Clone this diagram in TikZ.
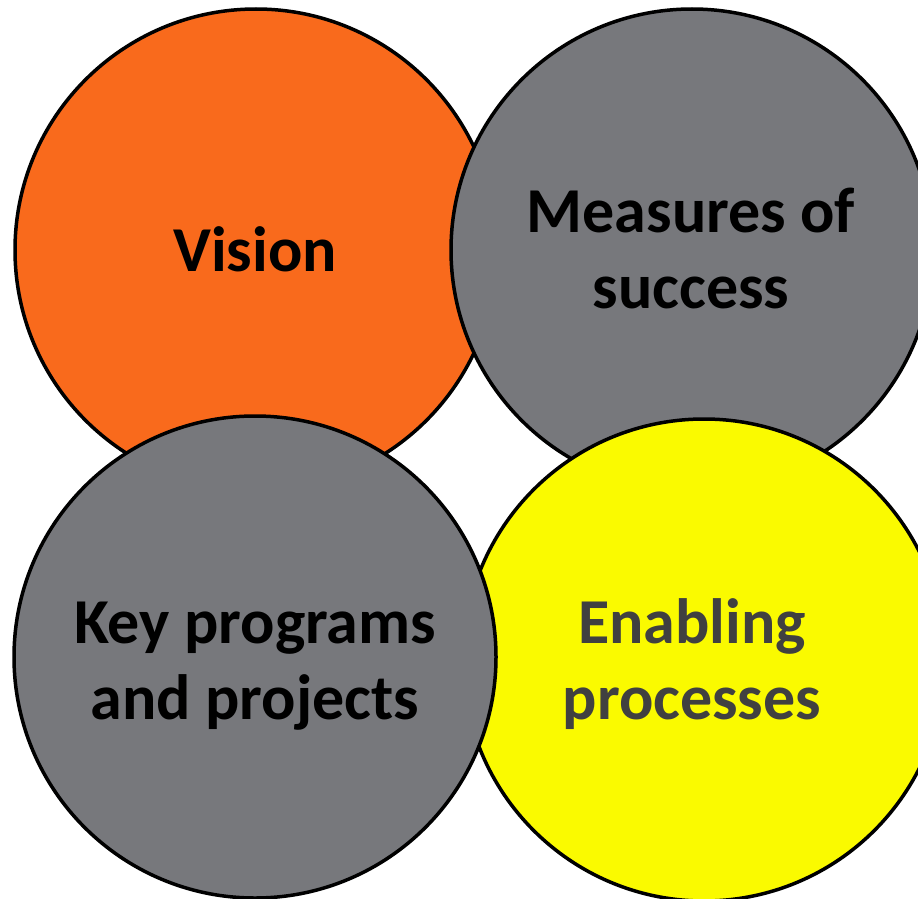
\documentclass[tikz,border=0pt]{standalone}
\usepackage{fontspec}
\setmainfont{Carlito}
\definecolor{visionorange}{HTML}{F96A1C}
\definecolor{midgray}{HTML}{77787C}
\definecolor{brightyellow}{HTML}{FAFA00}
\definecolor{darktext}{HTML}{404040}
\begin{document}
\begin{tikzpicture}[x=1pt,y=-1pt,
  disc/.style={circle, draw=black, line width=3.5pt, minimum size=482pt, inner sep=0pt},
  caption/.style={font=\fontsize{64}{76}\selectfont\bfseries, align=center, anchor=base, inner sep=0pt}]
  \useasboundingbox (0,0) rectangle (918,899);
  % four overlapping discs, back to front
  \node[disc, fill=visionorange] (vision) at (256,250) {};
  \node[disc, fill=midgray] (measures) at (692,250) {};
  \node[disc, fill=brightyellow] (enabling) at (704,660) {};
  \node[disc, fill=midgray] (programs) at (255,657) {};
  % labels (anchored on the baseline of the last line)
  \node[caption] (visiontext) at (255,271) {Vision};
  \node[caption] (measurestext) at (691,308) {Measures of\\success};
  \node[caption] (programstext) at (255,719) {Key programs\\and projects};
  \node[caption, text=darktext] (enablingtext) at (692,719) {Enabling\\processes};
\end{tikzpicture}
\end{document}
